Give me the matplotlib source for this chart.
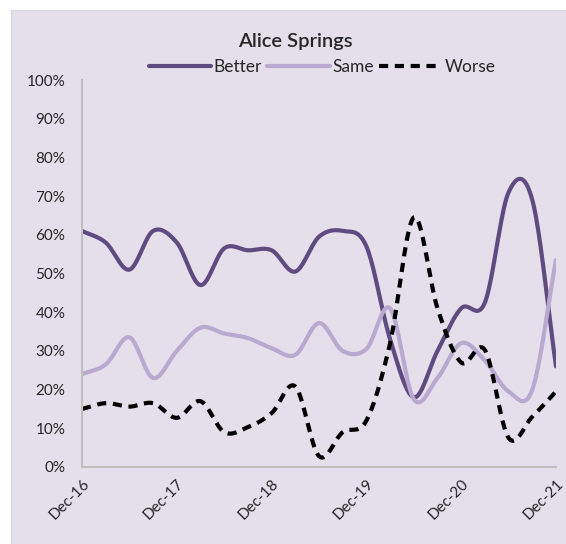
import numpy as np
import matplotlib
matplotlib.use("Agg")
import matplotlib.pyplot as plt
from matplotlib.patches import Rectangle
from matplotlib.ticker import PercentFormatter

quarters = ["Dec-16", "Mar-17", "Jun-17", "Sep-17", "Dec-17", "Mar-18", "Jun-18",
            "Sep-18", "Dec-18", "Mar-19", "Jun-19", "Sep-19", "Dec-19", "Mar-20",
            "Jun-20", "Sep-20", "Dec-20", "Mar-21", "Jun-21", "Sep-21", "Dec-21"]
better = [61, 58, 51, 61, 58, 47, 56.5, 56, 56, 50.5, 59.5, 61, 57, 33, 18, 30, 41, 42.5, 71, 69, 26]
same = [24, 26.5, 33.5, 23, 30, 36, 34.5, 33.3, 30.7, 29, 37.2, 30, 30.5, 41, 17.5, 23, 32, 27.5, 19.5, 20, 53.5]
worse = [15, 16.5, 15.6, 16.5, 12.7, 17, 9, 10.3, 13.9, 20.8, 2.8, 9, 12, 32, 64.5, 41, 27, 30.2, 7.5, 13, 19.5]
tick_labels = ["Dec-16", "Dec-17", "Dec-18", "Dec-19", "Dec-20", "Dec-21"]

def smooth(x, y, n=20):
    # Catmull-Rom rendering of the line (Excel "smoothed line" look)
    x = np.asarray(x, float); y = np.asarray(y, float)
    px = np.concatenate([[2 * x[0] - x[1]], x, [2 * x[-1] - x[-2]]])
    py = np.concatenate([[2 * y[0] - y[1]], y, [2 * y[-1] - y[-2]]])
    xs, ys = [], []
    t = np.linspace(0, 1, n, endpoint=False)
    for i in range(1, len(px) - 2):
        for arr, out in ((px, xs), (py, ys)):
            p0, p1, p2, p3 = arr[i - 1], arr[i], arr[i + 1], arr[i + 2]
            out.extend(0.5 * ((2 * p1) + (-p0 + p2) * t + (2 * p0 - 5 * p1 + 4 * p2 - p3) * t ** 2
                              + (-p0 + 3 * p1 - 3 * p2 + p3) * t ** 3))
    xs.append(x[-1]); ys.append(y[-1])
    return np.array(xs), np.array(ys)

plt.rcParams['font.family'] = ['Lato', 'DejaVu Sans']
bg = "#E4DFEB"
fig = plt.figure(figsize=(5.66, 5.44), dpi=100)
fig.patch.set_facecolor("white")
fig.add_artist(Rectangle((11 / 566, -0.01), 1, 1 - 10 / 544 + 0.01, transform=fig.transFigure,
                         facecolor=bg, edgecolor="#D9D9D9", lw=1, zorder=0))

ax = fig.add_axes([82 / 566, 1 - 467 / 544, (556 - 82) / 566, (467 - 80) / 544])
ax.set_facecolor("none")
x = np.arange(len(quarters))
c_better = "#5F4B80"
c_same = "#B9A8D0"
sx, sy = smooth(x, better)
ax.plot(sx, sy, color=c_better, lw=3, solid_capstyle="round", label="Better")
sx, sy = smooth(x, same)
ax.plot(sx, sy, color=c_same, lw=3, solid_capstyle="round", label="Same")
sx, sy = smooth(x, worse)
ax.plot(sx, sy, color="black", lw=3, dashes=(2.2, 1.6), label="Worse")

ax.set_xlim(0, len(quarters) - 1)
ax.set_ylim(0, 100)
ax.set_yticks(np.arange(0, 101, 10))
ax.yaxis.set_major_formatter(PercentFormatter(decimals=0))
ax.set_xticks(x[::4])
ax.set_xticklabels(tick_labels, rotation=45, ha="right", rotation_mode="anchor")
ax.tick_params(axis="both", length=0, labelsize=11, colors="#262626")
ax.tick_params(axis="y", pad=12)
ax.tick_params(axis="x", pad=7)
for s in ["top", "right"]:
    ax.spines[s].set_visible(False)
for s in ["left", "bottom"]:
    ax.spines[s].set_color("#BFBFBF")
    ax.spines[s].set_linewidth(1.5)

fig.text(295 / 566, 1 - 42 / 544, "Alice Springs", ha="center", va="center",
         fontsize=14.5, color="#262626", fontweight="semibold")
fig.legend(loc="center", bbox_to_anchor=(322 / 566, 1 - 67 / 544), ncol=3, frameon=False,
           fontsize=12.5, handlelength=3.6, handletextpad=0.15, columnspacing=0.3,
           labelcolor="#262626")

fig.savefig("out.png", dpi=100, facecolor=fig.get_facecolor())
